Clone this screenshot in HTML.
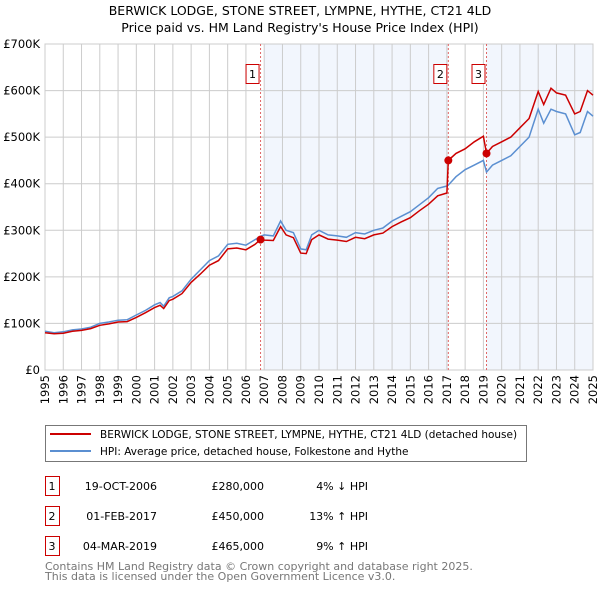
<!DOCTYPE html>
<html><head><meta charset="utf-8"><style>
body{margin:0;background:#fff;font-family:"DejaVu Sans","Liberation Sans",sans-serif}
svg text{font-family:"DejaVu Sans","Liberation Sans",sans-serif}
</style></head><body>
<svg id="chart" width="600" height="590" viewBox="0 0 600 590" xmlns="http://www.w3.org/2000/svg">
<text x="300" y="15" text-anchor="middle" font-size="12.5">BERWICK LODGE, STONE STREET, LYMPNE, HYTHE, CT21 4LD</text>
<text x="300" y="32" text-anchor="middle" font-size="12.5">Price paid vs. HM Land Registry's House Price Index (HPI)</text>
<g id="plot"></g>
<g>
<rect x="45.5" y="425.5" width="481" height="36" fill="#fff" stroke="#777"/>
<line x1="50" y1="434" x2="91" y2="434" stroke="#cc0000" stroke-width="2"/>
<text x="100" y="438" font-size="10.5">BERWICK LODGE, STONE STREET, LYMPNE, HYTHE, CT21 4LD (detached house)</text>
<line x1="50" y1="451" x2="91" y2="451" stroke="#5b8fd1" stroke-width="2"/>
<text x="100" y="455" font-size="10.5">HPI: Average price, detached house, Folkestone and Hythe</text>
</g>
<g id="table"></g>
<text x="45" y="570" font-size="11" fill="#777">Contains HM Land Registry data © Crown copyright and database right 2025.</text>
<text x="45" y="580" font-size="11" fill="#777">This data is licensed under the Open Government Licence v3.0.</text>
</svg>
<script>
const years=[1995,1995.5,1996,1996.5,1997,1997.5,1998,1998.5,1999,1999.5,2000,2000.5,2001,2001.3,2001.5,2001.8,2002,2002.5,2003,2003.5,2004,2004.5,2005,2005.5,2006,2006.5,2006.8,2007,2007.5,2007.9,2008.2,2008.6,2009,2009.3,2009.6,2010,2010.5,2011,2011.5,2012,2012.5,2013,2013.5,2014,2014.5,2015,2015.5,2016,2016.5,2017,2017.08,2017.5,2018,2018.5,2019,2019.17,2019.5,2020,2020.5,2021,2021.5,2022,2022.3,2022.7,2023,2023.5,2024,2024.3,2024.7,2025];
const hpiValues=[83,80,82,86,88,92,100,103,107,108,118,128,140,145,137,155,158,170,195,215,235,245,270,272,268,280,287,290,288,320,300,295,260,258,290,300,290,288,285,295,292,300,305,320,330,340,355,370,390,395,397,415,430,440,450,425,440,450,460,480,500,560,530,560,555,550,505,510,555,545];
const priceValues=[80,78,79,83,85,89,96,99,103,104,113,123,134,139,132,149,152,164,188,206,225,235,260,262,258,270,280,279,278,308,290,284,251,250,280,290,281,279,276,285,282,290,294,308,318,327,342,356,374,380,450,465,475,490,502,465,480,490,500,520,540,598,570,605,595,590,550,555,600,590];
const yTicks=[0,100,200,300,400,500,600,700];
const xTicks=[1995,1996,1997,1998,1999,2000,2001,2002,2003,2004,2005,2006,2007,2008,2009,2010,2011,2012,2013,2014,2015,2016,2017,2018,2019,2020,2021,2022,2023,2024,2025];
const saleLabels=['1','2','3'];
const saleYears=[2006.8,2017.08,2019.17];
const salePrices=[280,450,465];
const saleDates=['19-OCT-2006','01-FEB-2017','04-MAR-2019'];
const salePriceText=['£280,000','£450,000','£465,000'];
const saleHpiText=['4% ↓ HPI','13% ↑ HPI','9% ↑ HPI'];

const NS='http://www.w3.org/2000/svg';
const X0=45,X1=593,Y0=370,Y1=44;
const xs=y=>X0+(y-1995)/(2025-1995)*(X1-X0);
const ys=v=>Y0-v/700*(Y0-Y1);
const plot=document.getElementById('plot');
function mk(tag,at,parent){const e=document.createElementNS(NS,tag);for(const k in at)e.setAttribute(k,at[k]);(parent||plot).appendChild(e);return e;}
let s1=mk('rect',{x:xs(saleYears[0])+4,y:Y1,width:xs(saleYears[1])-xs(saleYears[0])-4,height:Y0-Y1,fill:'#f2f6fd'});


let s2=mk('rect',{x:xs(saleYears[2]),y:Y1,width:X1-xs(saleYears[2]),height:Y0-Y1,fill:'#f2f6fd'});


yTicks.forEach(t=>{
 const g=mk('line',{x1:X0,x2:X1,y1:ys(t*1),y2:ys(t*1),stroke:'#ccc','stroke-width':1});
 
 
 const tx=mk('text',{x:X0-5,y:ys(t)+4,'text-anchor':'end','font-size':11.5});
 
 
 tx.textContent=t===0?'£0':'£'+t+'K';
});
xTicks.forEach(t=>{
 const g=mk('line',{x1:xs(t),x2:xs(t),y1:Y1,y2:Y0,stroke:'#ccc','stroke-width':1});
 
 
 const tx=mk('text',{x:0,y:0,'text-anchor':'end','font-size':11.5,transform:`translate(${xs(t)+4},${Y0+5}) rotate(-90)`});
 
 
 tx.textContent=t;
});
let ax=mk('rect',{x:X0,y:Y1,width:X1-X0,height:Y0-Y1,fill:'none',stroke:'#ccc'});


saleYears.forEach((sy,i)=>{
 const l=mk('line',{x1:xs(sy),x2:xs(sy),y1:Y1,y2:Y0,stroke:'#e06666','stroke-dasharray':'2,2','stroke-width':1});
 
 
 const r=mk('rect',{x:xs(sy)-14.5,y:64.5,width:13,height:19,fill:'#fff',stroke:'#cc0000'});
 
 
 const t=mk('text',{x:xs(sy)-8,y:78,'text-anchor':'middle','font-size':11});
 
 
 t.textContent=saleLabels[i];
});
const path=v=>v.map((d,i)=>(i?'L':'M')+xs(years[i]).toFixed(1)+','+ys(d).toFixed(1)).join('');
let hp=mk('path',{d:path(hpiValues),fill:'none',stroke:'#5b8fd1','stroke-width':1.5});


let pp=mk('path',{d:path(priceValues),fill:'none',stroke:'#cc0000','stroke-width':1.5});


saleYears.forEach((sy,i)=>{
 const c=mk('circle',{cx:xs(sy),cy:ys(salePrices[i]),r:4,fill:'#cc0000'});
 
 
});
const tbl=document.getElementById('table');
saleLabels.forEach((lab,i)=>{
 const y=476+i*30;
 const r=mk('rect',{x:45.5,y:y+0.5,width:14,height:19,fill:'#fff',stroke:'#cc0000'},tbl);
 
 
 const cells=[[52,lab,'middle'],[157,saleDates[i],'end'],[264,salePriceText[i],'end'],[368,saleHpiText[i],'end']];
 cells.forEach(c=>{
  const t=mk('text',{x:c[0],y:y+14,'text-anchor':c[2],'font-size':11},tbl);
  
  
  t.textContent=c[1];
 });
});
</script>
</body></html>
